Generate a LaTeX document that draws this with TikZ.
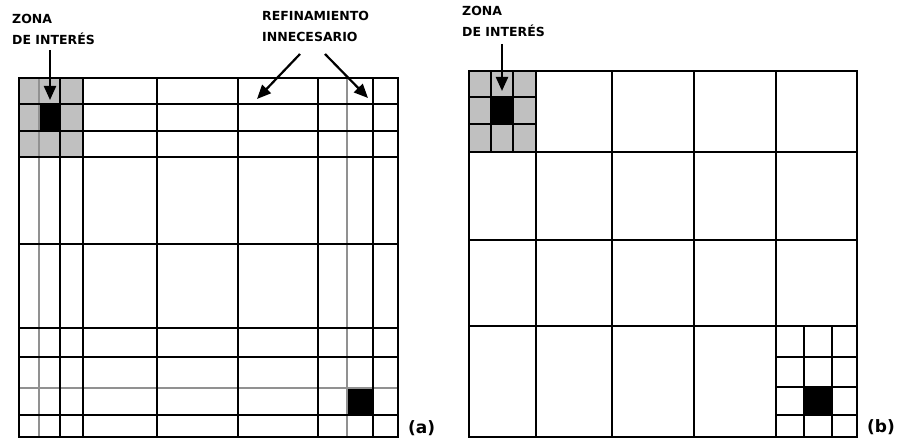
\documentclass[tikz,border=0pt]{standalone}
\usepackage{fontspec}
\setmainfont{DejaVu Sans}
\usetikzlibrary{positioning,arrows.meta}
\definecolor{ZoneGray}{RGB}{192,192,192}
\definecolor{FaintGray}{RGB}{145,145,145}
\tikzset{
  major/.style={draw=black,line width=2.9pt},
  minor/.style={draw=black,line width=2pt},
  faint/.style={draw=FaintGray,line width=2.4pt},
  zone/.style={fill=ZoneGray},
  target/.style={fill=black},
  lab/.style={font=\bfseries\fontsize{12.5}{21}\selectfont,align=left,inner sep=0pt},
  tag/.style={font=\bfseries\fontsize{17}{18}\selectfont,inner sep=0pt},
  pointer/.style={draw=black,line width=2.2pt,-{Triangle[length=14pt,width=12pt]}},
}

\begin{document}
\begin{tikzpicture}[x=1pt,y=-1pt]
\useasboundingbox (0,0) rectangle (901,441);
% labels
\node[lab,anchor=base west] (zonaA) at (12,45) {ZONA\\DE INTERÉS};
\node[lab,anchor=base west] (zonaB) at (462,37) {ZONA\\DE INTERÉS};
\node[lab,anchor=base west] (refin) at (262,42) {REFINAMIENTO\\INNECESARIO};
\node[tag,anchor=base west] (tagA) at (408,433) {(a)};
\node[tag,anchor=base west] (tagB) at (867,432) {(b)};
% (a) uniform refinement by rows and columns
\fill[zone] (19,78) rectangle (83,157);
\fill[target] (39,104) rectangle (60,131);
\fill[target] (347,388) rectangle (373,415);
\draw[faint] (39,78)--(39,437);
\draw[faint] (347,78)--(347,437);
\draw[faint] (19,388)--(398,388);
\draw[minor] (60,78)--(60,437);
\draw[minor] (373,78)--(373,437);
\draw[minor] (19,104)--(398,104);
\draw[minor] (19,131)--(398,131);
\draw[minor] (19,357)--(398,357);
\draw[minor] (19,415)--(398,415);
\draw[major] (83,78)--(83,437);
\draw[major] (157,78)--(157,437);
\draw[major] (238,78)--(238,437);
\draw[major] (318,78)--(318,437);
\draw[major] (19,157)--(398,157);
\draw[major] (19,244)--(398,244);
\draw[major] (19,328)--(398,328);
\draw[major] (19,78) rectangle (398,437);
% (b) local refinement
\fill[zone] (469,71) rectangle (536,152);
\fill[target] (491,97) rectangle (513,124);
\fill[target] (804,387) rectangle (832,415);
\draw[minor] (491,71)--(491,152);
\draw[minor] (513,71)--(513,152);
\draw[minor] (469,97)--(536,97);
\draw[minor] (469,124)--(536,124);
\draw[minor] (804,326)--(804,437);
\draw[minor] (832,326)--(832,437);
\draw[minor] (776,357)--(857,357);
\draw[minor] (776,387)--(857,387);
\draw[minor] (776,415)--(857,415);
\draw[major] (536,71)--(536,437);
\draw[major] (612,71)--(612,437);
\draw[major] (694,71)--(694,437);
\draw[major] (776,71)--(776,437);
\draw[major] (469,152)--(857,152);
\draw[major] (469,240)--(857,240);
\draw[major] (469,326)--(857,326);
\draw[major] (469,71) rectangle (857,437);
% arrows
\coordinate (fromA) at (50,50);
\coordinate (toA) at (50,100);
\coordinate (fromB) at (502,44);
\coordinate (toB) at (502,91);
\coordinate (fromL) at (300,54);
\coordinate (toL) at (257,99);
\coordinate (fromR) at (325,54);
\coordinate (toR) at (368,98);
\draw[pointer] (fromA)--(toA);
\draw[pointer] (fromB)--(toB);
\draw[pointer] (fromL)--(toL);
\draw[pointer] (fromR)--(toR);
\end{tikzpicture}
\end{document}
